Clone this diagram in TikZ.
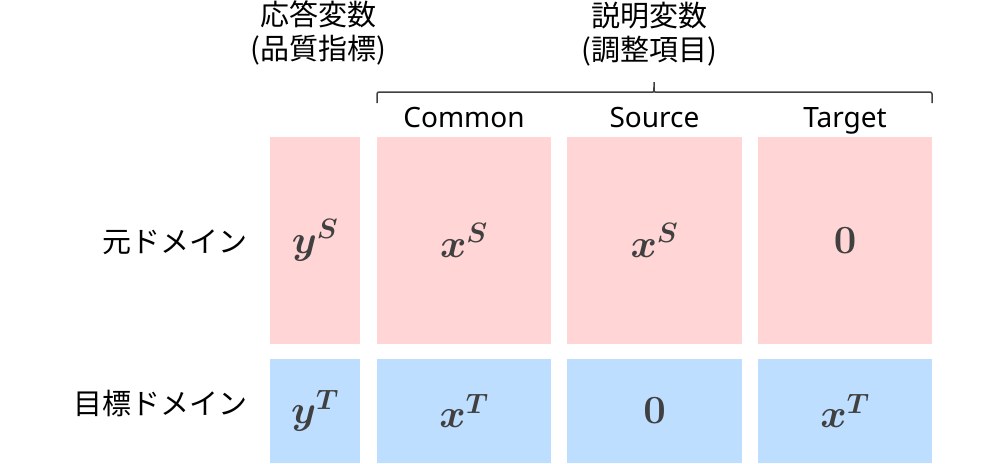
\documentclass[tikz,border=0pt]{standalone}
\usepackage{fix-cm}
\usepackage[no-math]{fontspec}
\usepackage{amsmath,bm}
\setmainfont{Noto Sans}
\newfontfamily\jpfont{Noto Sans CJK JP}
\usetikzlibrary{positioning}
\definecolor{srcpink}{RGB}{255,213,213}
\definecolor{tgtblue}{RGB}{190,222,255}
\definecolor{symgray}{RGB}{64,64,64}

\begin{document}
\begin{tikzpicture}[x=1pt, y=-1pt, node distance=16pt,
      every node/.style = {inner sep=0pt, outer sep=0pt},
      cell/.style = {text=symgray, font=\fontsize{40}{44}\selectfont},
      srccell/.style = {cell, fill=srcpink, minimum height=207pt},
      tgtcell/.style = {cell, fill=tgtblue, minimum height=104pt},
      hdr/.style = {font=\fontsize{28}{34}\selectfont},
      jplbl/.style = {font=\jpfont\fontsize{29}{34}\selectfont, align=center}]
    \useasboundingbox (0,0) rectangle (1000,463);

    % source domain row
    \node[srccell, minimum width=90pt] (ys) at (315,240.5) {$\bm{y}^{\bm{S}}$};
    \node[srccell, minimum width=174pt, right=17pt of ys] (xsc) {$\bm{x}^{\bm{S}}$};
    \node[srccell, minimum width=175pt, right=of xsc] (xss) {$\bm{x}^{\bm{S}}$};
    \node[srccell, minimum width=174pt, right=of xss] (zst) {$\mathbf{0}$};

    % target domain row
    \node[tgtcell, minimum width=90pt, below=15pt of ys] (yt) {$\bm{y}^{\bm{T}}$};
    \node[tgtcell, minimum width=174pt, below=15pt of xsc] (xtc) {$\bm{x}^{\bm{T}}$};
    \node[tgtcell, minimum width=175pt, below=15pt of xss] (zts) {$\mathbf{0}$};
    \node[tgtcell, minimum width=174pt, below=15pt of zst] (xtt) {$\bm{x}^{\bm{T}}$};

    % column headers
    \node[hdr, above=10pt of xsc, anchor=base] (common) {Common};
    \node[hdr, above=10pt of xss, anchor=base] (source) {Source};
    \node[hdr, above=10pt of zst, anchor=base] (target) {Target};

    % row labels
    \node[jplbl, left=23pt of ys, yshift=-2pt] (srclbl) {元ドメイン};
    \node[jplbl, left=23pt of yt, yshift=8pt] (tgtlbl) {目標ドメイン};

    % titles
    \node[jplbl] (resp) at (318,33) {応答変数\\(品質指標)};
    \node[jplbl] (expl) at (649,34.5) {説明変数\\(調整項目)};

    \draw[symgray, line width=1.5pt, rounded corners=2pt]
      (377,103) -- (377,92) -- (651,92)
      .. controls (654,92) .. (654,81)
      .. controls (654,92) .. (657,92) -- (932,92) -- (932,103);
\end{tikzpicture}
\end{document}
